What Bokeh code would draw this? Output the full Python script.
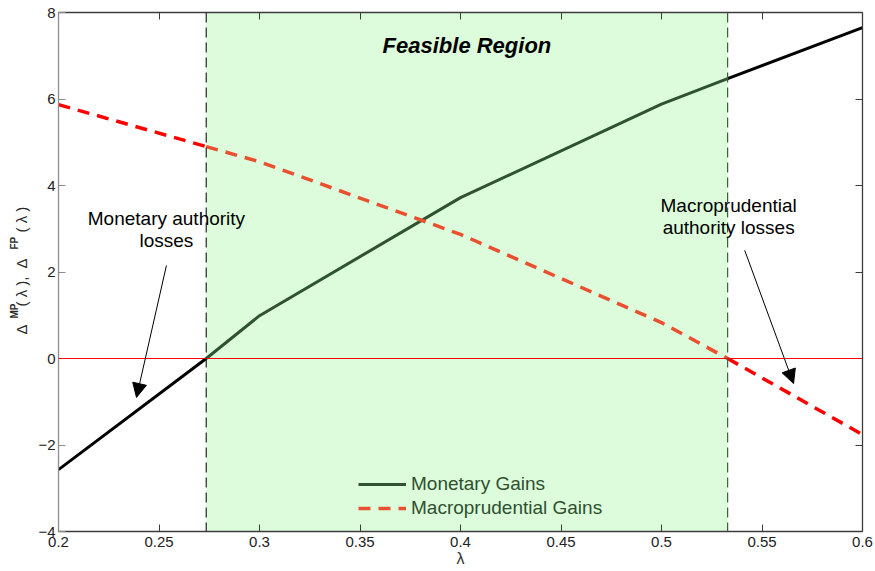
import numpy as np
from bokeh.plotting import figure
from bokeh.layouts import row
from bokeh.models import (Range1d, LinearAxis, FixedTicker, BoxAnnotation, Span, Label,
                          Arrow, NormalHead, Legend, LegendItem, CustomJSTickFormatter)
from bokeh.embed import file_html
from bokeh.resources import INLINE

# ---------------- data ----------------
lam = [0.2, 0.2735, 0.3, 0.4, 0.5, 0.5329, 0.6]
monetary_gains = [-2.57, 0.0, 0.99, 3.72, 5.88, 6.47, 7.65]
macro_gains = [5.87, 4.90, 4.55, 2.87, 0.83, 0.0, -1.76]
feasible = [0.2735, 0.5329]
x_ticks = [0.2, 0.25, 0.3, 0.35, 0.4, 0.45, 0.5, 0.55, 0.6]
x_tick_labels = ["0.2", "0.25", "0.3", "0.35", "0.4", "0.45", "0.5", "0.55", "0.6"]
y_ticks = [-4, -2, 0, 2, 4, 6, 8]
series_names = ["Monetary Gains", "Macroprudential Gains"]
title_text = "Feasible Region"
mon_note = ["Monetary authority", "losses"]
mac_note = ["Macroprudential", "authority losses"]
# annotation anchors (data units)
mon_note_xy = (0.2537, [3.24, 2.73])
mac_note_xy = (0.5334, [3.54, 3.03])
mon_arrow = (0.2537, 2.15, 0.2388, -0.90)
mac_arrow = (0.5414, 2.50, 0.5657, -0.58)

FONT = "Liberation Sans"
GREEN_LINE = "#2f5230"
ORANGE = "#e9502f"
RED = "#ff0000"

x = np.array(lam)
mon = np.array(monetary_gains)
mac = np.array(macro_gains)
lo_i = lam.index(feasible[0])
hi_i = lam.index(feasible[1])

LABEL_W = 35
TOP, BOTTOM = 12, 40

p = figure(width=875 - LABEL_W, height=571, output_backend="svg", toolbar_location=None,
           x_range=Range1d(0.2, 0.6), y_range=Range1d(-4, 8),
           min_border_left=57 - LABEL_W, min_border_right=13,
           min_border_top=TOP, min_border_bottom=BOTTOM,
           x_axis_location=None, y_axis_location=None)
p.grid.visible = False
p.outline_line_color = None
p.background_fill_color = "white"

def style_axis(ax, color, labels=True):
    ax.axis_line_color = color
    ax.axis_line_width = 1.3
    ax.major_tick_line_color = color
    ax.major_tick_in = 7
    ax.major_tick_out = 0
    ax.minor_tick_line_color = None
    ax.major_label_text_font = FONT
    ax.major_label_text_font_size = "15px"
    ax.major_label_text_color = "#222222"
    ax.major_label_standoff = 5
    if not labels:
        ax.formatter = CustomJSTickFormatter(code="return ''")
        ax.major_label_standoff = 0
        ax.major_label_text_font_size = "0px"

xb = LinearAxis(ticker=FixedTicker(ticks=x_ticks), axis_label="λ")
xb.major_label_overrides = {t: s for t, s in zip(x_ticks, x_tick_labels)}
style_axis(xb, "#3c3c3c")
xb.axis_label_standoff = 0
xb.axis_label_text_font = FONT
xb.axis_label_text_font_size = "16px"
xb.axis_label_text_font_style = "normal"
xb.axis_label_text_color = "#333333"
p.add_layout(xb, "below")
xt = LinearAxis(ticker=FixedTicker(ticks=x_ticks))
style_axis(xt, "#3c3c3c", labels=False)
p.add_layout(xt, "above")
yl = LinearAxis(ticker=FixedTicker(ticks=y_ticks))
style_axis(yl, "#8c8c8c")
yl.major_label_standoff = 3
p.add_layout(yl, "left")
yr = LinearAxis(ticker=FixedTicker(ticks=y_ticks))
style_axis(yr, "#3c3c3c", labels=False)
p.add_layout(yr, "right")

# feasible region
p.add_layout(BoxAnnotation(left=feasible[0], right=feasible[1], fill_color="#dcfcdc",
                           fill_alpha=1.0, line_color=None, level="underlay"))
p.add_layout(Span(location=0, dimension="width", line_color=RED, line_width=1))
p.add_layout(Span(location=feasible[0], dimension="height", line_color="#222222",
                  line_width=1.2, line_dash="10 5"))
p.add_layout(Span(location=feasible[1], dimension="height", line_color="#3d5e3d",
                  line_width=1.2, line_dash="10 5"))

# monetary gains
p.line(x[:lo_i + 1], mon[:lo_i + 1], line_color="black", line_width=3)
r_mon = p.line(x[lo_i:hi_i + 1], mon[lo_i:hi_i + 1], line_color=GREEN_LINE, line_width=3)
p.line(x[hi_i:], mon[hi_i:], line_color="black", line_width=3)
# macroprudential gains
p.line(x[:lo_i + 1], mac[:lo_i + 1], line_color=RED, line_width=3.5, line_dash="12 8")
r_mac = p.line(x[lo_i:hi_i + 1], mac[lo_i:hi_i + 1], line_color=ORANGE, line_width=3.5,
               line_dash="12 8")
p.line(x[hi_i:], mac[hi_i:], line_color=RED, line_width=3.5, line_dash="12 8")

legend = Legend(items=[LegendItem(label=series_names[0], renderers=[r_mon]),
                       LegendItem(label=series_names[1], renderers=[r_mac])],
                location=(300, 12), background_fill_alpha=0, border_line_color=None,
                label_text_font=FONT, label_text_font_size="19px",
                label_text_color="#2f4f2f", glyph_width=48, glyph_height=20,
                label_height=20, spacing=2, padding=0, margin=0, label_standoff=5)
p.add_layout(legend, "center")

# title inside region
p.add_layout(Label(x=sum(feasible) / 2, y=7.24, text=title_text, text_align="center",
                   text_baseline="middle", text_font=FONT, text_font_size="22px",
                   text_font_style="bold italic", text_color="black"))

# notes and arrows
for txt, yy in zip(mon_note, mon_note_xy[1]):
    p.add_layout(Label(x=mon_note_xy[0], y=yy, text=txt, text_align="center",
                       text_baseline="middle", text_font=FONT, text_font_size="19px",
                       text_color="black"))
for txt, yy in zip(mac_note, mac_note_xy[1]):
    p.add_layout(Label(x=mac_note_xy[0], y=yy, text=txt, text_align="center",
                       text_baseline="middle", text_font=FONT, text_font_size="19px",
                       text_color="black"))
for (x0, y0, x1, y1) in [mon_arrow, mac_arrow]:
    p.add_layout(Arrow(x_start=x0, y_start=y0, x_end=x1, y_end=y1, line_width=1,
                       line_color="black",
                       end=NormalHead(size=14, fill_color="black", line_color="black")))

# narrow strip on the left that carries the y-axis title (with superscripts)
q = figure(width=LABEL_W, height=571, output_backend="svg", toolbar_location=None,
           x_range=Range1d(0, LABEL_W), y_range=p.y_range,
           min_border_left=0, min_border_right=0,
           min_border_top=TOP, min_border_bottom=BOTTOM,
           x_axis_location=None, y_axis_location=None)
q.grid.visible = False
q.outline_line_color = None

pieces = [("Δ", 197, False), ("MP", 213, True), ("( λ ),", 225, False),
          ("Δ", 263, False), ("FP", 282, True), ("( λ )", 299, False)]
for txt, off, sup in pieces:
    q.add_layout(Label(x=13.5 if sup else 20.5, y=-4, y_offset=off,
                       text=txt, angle=np.pi / 2, text_align="left",
                       text_baseline="middle", text_font=FONT,
                       text_font_size="10px" if sup else "15px",
                       text_font_style="bold" if sup else "normal",
                       text_color="#2a2a2a"))

layout = row(q, p)
open("out.html", "w").write(file_html(layout, INLINE))
